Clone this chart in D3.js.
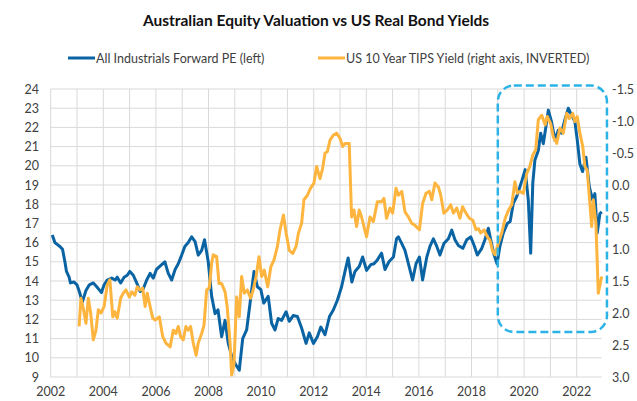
<!DOCTYPE html>
<html>
<head>
<meta charset="utf-8">
<script src="https://cdn.jsdelivr.net/npm/d3@7"></script>
<style>
  body { margin: 0; background: #fff; }
  text { font-family: Lato, "Open Sans", sans-serif; fill: #404040; }
</style>
</head>
<body>
<div id="chart"></div>
<script>
// ---------------- DATA ----------------
const peDates = [2002.06, 2002.16, 2002.35, 2002.45, 2002.54, 2002.6, 2002.7, 2002.75, 2002.88, 2003.0,
  2003.1, 2003.2, 2003.34, 2003.47, 2003.62, 2003.75, 2003.87, 2003.93, 2004.03, 2004.15,
  2004.32, 2004.45, 2004.53, 2004.66, 2004.79, 2004.91, 2005.01, 2005.14, 2005.27, 2005.4,
  2005.52, 2005.65, 2005.78, 2005.9, 2006.02, 2006.22, 2006.34, 2006.47, 2006.6, 2006.73,
  2006.85, 2006.98, 2007.1, 2007.23, 2007.36, 2007.49, 2007.61, 2007.74, 2007.85, 2007.99,
  2008.12, 2008.25, 2008.36, 2008.5, 2008.63, 2008.75, 2008.88, 2009.01, 2009.17, 2009.3,
  2009.45, 2009.58, 2009.73, 2009.86, 2009.99, 2010.1, 2010.27, 2010.4, 2010.53, 2010.65,
  2010.78, 2010.95, 2011.07, 2011.22, 2011.38, 2011.54, 2011.71, 2011.83, 2011.99, 2012.14,
  2012.27, 2012.43, 2012.6, 2012.75, 2012.9, 2013.06, 2013.19, 2013.31, 2013.45, 2013.57,
  2013.73, 2013.86, 2014.01, 2014.17, 2014.29, 2014.42, 2014.58, 2014.71, 2014.86, 2015.03,
  2015.15, 2015.22, 2015.35, 2015.47, 2015.6, 2015.76, 2015.89, 2016.02, 2016.14, 2016.3,
  2016.42, 2016.55, 2016.68, 2016.8, 2016.95, 2017.12, 2017.25, 2017.37, 2017.5, 2017.67,
  2017.82, 2017.97, 2018.1, 2018.22, 2018.39, 2018.51, 2018.64, 2018.73, 2018.86, 2018.97,
  2019.08, 2019.21, 2019.36, 2019.47, 2019.59, 2019.72, 2019.91, 2020.04, 2020.16, 2020.25,
  2020.33, 2020.41, 2020.54, 2020.63, 2020.73, 2020.83, 2020.92, 2021.04, 2021.17, 2021.3,
  2021.42, 2021.55, 2021.68, 2021.8, 2021.93, 2022.02, 2022.12, 2022.22, 2022.35, 2022.48,
  2022.61, 2022.69, 2022.78, 2022.88, 2022.95];
const peValues = [16.4, 16.0, 15.8, 15.65, 15.0, 14.5, 14.2, 13.9, 13.95, 13.8,
  13.4, 12.9, 13.5, 13.8, 13.9, 13.7, 13.5, 13.4, 13.8, 14.05,
  14.15, 14.05, 14.2, 13.9, 14.2, 14.3, 14.5, 14.3, 13.9, 13.45,
  13.6, 14.05, 14.4, 14.15, 14.6, 14.85, 15.0, 14.4, 14.05, 14.6,
  14.9, 15.35, 15.8, 16.0, 16.3, 16.05, 15.35, 15.6, 16.15, 15.0,
  13.2, 12.3, 12.5, 11.1, 11.95, 10.75, 10.1, 9.7, 9.35, 11.0,
  11.45, 12.85, 14.5, 13.7, 13.55, 12.85, 13.2, 11.8, 11.45, 12.05,
  11.95, 12.4, 11.9, 12.2, 12.15, 11.55, 10.75, 11.3, 10.75, 11.1,
  11.6, 11.2, 12.15, 12.5, 13.0, 13.7, 14.5, 15.2, 13.95, 14.5,
  14.75, 15.25, 14.55, 14.85, 14.9, 15.1, 15.45, 14.6, 15.0, 15.25,
  16.2, 16.3, 15.95, 15.6, 14.9, 14.05, 14.9, 15.25, 14.05, 15.25,
  15.8, 16.2, 15.8, 15.35, 15.95, 16.2, 16.65, 16.15, 15.85, 15.7,
  16.15, 16.3, 15.85, 15.35, 15.7, 16.15, 16.75, 16.15, 15.35, 14.9,
  15.8, 16.5, 17.0, 17.1, 18.05, 18.4, 19.2, 19.8, 18.2, 15.45,
  19.1, 20.3, 20.8, 21.7, 21.15, 22.05, 22.9, 22.3, 21.35, 21.85,
  21.7, 22.4, 23.0, 22.65, 22.3, 21.35, 20.1, 19.7, 20.45, 18.9,
  18.2, 18.55, 16.5, 17.5, 17.6];

const tipsDates = [2003.08, 2003.15, 2003.24, 2003.34, 2003.43, 2003.52, 2003.62, 2003.72, 2003.81, 2003.91,
  2004.03, 2004.15, 2004.25, 2004.36, 2004.44, 2004.53, 2004.66, 2004.76, 2004.86, 2004.99,
  2005.08, 2005.2, 2005.29, 2005.4, 2005.5, 2005.59, 2005.67, 2005.78, 2005.88, 2005.97,
  2006.13, 2006.26, 2006.38, 2006.54, 2006.66, 2006.76, 2006.85, 2006.94, 2007.04, 2007.14,
  2007.23, 2007.32, 2007.42, 2007.53, 2007.61, 2007.74, 2007.83, 2007.93, 2008.03, 2008.12,
  2008.18, 2008.31, 2008.4, 2008.5, 2008.63, 2008.71, 2008.82, 2008.88, 2008.97, 2009.07,
  2009.17, 2009.26, 2009.36, 2009.48, 2009.6, 2009.7, 2009.81, 2009.92, 2010.02, 2010.12,
  2010.25, 2010.37, 2010.49, 2010.62, 2010.72, 2010.85, 2010.95, 2011.07, 2011.2, 2011.33,
  2011.42, 2011.54, 2011.63, 2011.76, 2011.88, 2012.01, 2012.11, 2012.24, 2012.34, 2012.43,
  2012.52, 2012.62, 2012.75, 2012.87, 2013.0, 2013.1, 2013.19, 2013.35, 2013.44, 2013.53,
  2013.63, 2013.73, 2013.82, 2013.91, 2014.01, 2014.14, 2014.27, 2014.42, 2014.58, 2014.67,
  2014.77, 2014.9, 2015.0, 2015.13, 2015.22, 2015.35, 2015.47, 2015.6, 2015.73, 2015.85,
  2016.02, 2016.14, 2016.27, 2016.4, 2016.49, 2016.61, 2016.74, 2016.83, 2016.95, 2017.08,
  2017.21, 2017.31, 2017.44, 2017.56, 2017.66, 2017.79, 2017.92, 2018.05, 2018.17, 2018.26,
  2018.35, 2018.48, 2018.6, 2018.7, 2018.81, 2018.89, 2019.02, 2019.15, 2019.28, 2019.4,
  2019.53, 2019.65, 2019.74, 2019.84, 2019.97, 2020.1, 2020.22, 2020.33, 2020.44, 2020.54,
  2020.67, 2020.8, 2020.88, 2021.01, 2021.11, 2021.24, 2021.36, 2021.49, 2021.62, 2021.72,
  2021.85, 2021.93, 2022.02, 2022.12, 2022.23, 2022.31, 2022.4, 2022.48, 2022.57, 2022.63,
  2022.73, 2022.82, 2022.95];
const tipsValues = [2.21, 1.77, 1.93, 2.16, 1.77, 2.0, 2.42, 2.27, 1.95, 2.0,
  1.9, 1.56, 1.48, 2.06, 1.98, 2.08, 1.77, 1.69, 1.64, 1.75,
  1.67, 1.72, 1.59, 1.64, 1.61, 1.9, 1.69, 1.9, 2.08, 2.11,
  2.06, 2.37, 2.47, 2.53, 2.27, 2.32, 2.21, 2.37, 2.42, 2.21,
  2.27, 2.21, 2.47, 2.66, 2.47, 2.32, 2.19, 1.64, 1.61, 1.22,
  1.09, 1.12, 1.54, 1.54, 1.67, 1.9, 2.47, 2.97, 2.79, 1.75,
  2.06, 1.43, 1.69, 1.64, 1.77, 1.64, 1.43, 1.12, 1.43, 1.33,
  1.59, 1.28, 1.17, 0.96, 0.70, 0.47, 0.75, 1.02, 1.07, 0.96,
  0.75, 0.6, 0.23, 0.16, 0.05, -0.03, -0.29, -0.10, -0.26, -0.5,
  -0.52, -0.70, -0.78, -0.81, -0.73, -0.6, -0.65, -0.65, 0.5, 0.39,
  0.65, 0.39, 0.5, 0.65, 0.81, 0.5, 0.57, 0.26, 0.26, 0.21,
  0.52, 0.36, 0.44, 0.05, 0.16, 0.1, 0.42, 0.5, 0.6, 0.63,
  0.70, 0.29, 0.13, 0.10, 0.23, -0.03, 0.03, 0.16, 0.44, 0.39,
  0.31, 0.44, 0.36, 0.52, 0.34, 0.44, 0.52, 0.55, 0.70, 0.68,
  0.75, 0.70, 0.81, 0.86, 1.04, 1.09, 0.91, 0.75, 0.52, 0.4,
  0.31, -0.05, 0.13, 0.10, 0.13, -0.18, -0.29, -0.47, -0.55, -1.02,
  -1.09, -0.94, -1.07, -0.96, -0.75, -0.65, -0.89, -0.81, -1.12, -1.04,
  -1.12, -0.99, -1.07, -0.81, -0.60, -0.29, -0.23, 0.18, 0.65, 0.23,
  0.60, 1.69, 1.43];

const leftTicks = [9, 10, 11, 12, 13, 14, 15, 16, 17, 18, 19, 20, 21, 22, 23, 24];
const rightTicks = [-1.5, -1.0, -0.5, 0.0, 0.5, 1.0, 1.5, 2.0, 2.5, 3.0];
const yearTicks = [2002, 2004, 2006, 2008, 2010, 2012, 2014, 2016, 2018, 2020, 2022];
const yearGrid = d3.range(2002, 2023);
// dashed highlight box (years, left-axis units)
const highlight = { x0: 2019.0, x1: 2023.15, top: 24.18, bottom: 11.35 };

// ---------------- CHART ----------------
const width = 637, height = 401;
const margin = { top: 89, right: 35.3, bottom: 24, left: 50.7 };

const svg = d3.select("#chart").append("svg")
  .attr("width", width).attr("height", height);

const x = d3.scaleLinear().domain([2002, 2022.95])
  .range([margin.left, width - margin.right]);
const yL = d3.scaleLinear().domain([9, 24])
  .range([height - margin.bottom, margin.top]);
const yR = d3.scaleLinear().domain([3.0, -1.5])
  .range([height - margin.bottom, margin.top]);

// gridlines
svg.append("g").selectAll("line").data(leftTicks).join("line")
  .attr("x1", x.range()[0]).attr("x2", x.range()[1])
  .attr("y1", d => yL(d)).attr("y2", d => yL(d))
  .attr("stroke", "#d9d9d9").attr("stroke-width", 1);
svg.append("g").selectAll("line").data(yearGrid).join("line")
  .attr("x1", d => x(d)).attr("x2", d => x(d))
  .attr("y1", yL(9)).attr("y2", yL(24))
  .attr("stroke", "#d9d9d9").attr("stroke-width", 1);

// axes labels
svg.append("g").selectAll("text").data(leftTicks).join("text")
  .attr("x", 39).attr("y", d => yL(d) + 4.5)
  .attr("text-anchor", "end").style("font-size", "12.5px")
  .text(d => d);
svg.append("g").selectAll("text").data(rightTicks).join("text")
  .attr("x", 612).attr("y", d => yR(d) + 4.5)
  .attr("text-anchor", "start").style("font-size", "12.5px")
  .text(d => d3.format(".1f")(d).replace("−", "-"));
svg.append("g").selectAll("text").data(yearTicks).join("text")
  .attr("x", d => x(d)).attr("y", 396)
  .attr("text-anchor", "middle").style("font-size", "12.5px")
  .text(d => d);

// lines
const pe = peDates.map((d, i) => [d, peValues[i]]);
const tips = tipsDates.map((d, i) => [d, tipsValues[i]]);

svg.append("path").datum(pe)
  .attr("fill", "none").attr("stroke", "#0A64A4").attr("stroke-width", 3)
  .attr("stroke-linejoin", "round")
  .attr("d", d3.line().x(d => x(d[0])).y(d => yL(d[1])));
svg.append("path").datum(tips)
  .attr("fill", "none").attr("stroke", "#FDB53F").attr("stroke-width", 3)
  .attr("stroke-linejoin", "round")
  .attr("d", d3.line().x(d => x(d[0])).y(d => yR(d[1])));

// highlight box
svg.append("rect")
  .attr("x", x(highlight.x0)).attr("y", yL(highlight.top))
  .attr("width", x(highlight.x1) - x(highlight.x0))
  .attr("height", yL(highlight.bottom) - yL(highlight.top))
  .attr("rx", 16).attr("ry", 16)
  .attr("fill", "none").attr("stroke", "#2BB3E6")
  .attr("stroke-width", 2.5).attr("stroke-dasharray", "8,4");

// title
svg.append("text")
  .attr("x", 316).attr("y", 26).attr("text-anchor", "middle")
  .style("font-size", "15.5px").style("font-weight", "bold").style("fill", "#111")
  .text("Australian Equity Valuation vs US Real Bond Yields");

// legend
const legend = [
  { label: "All Industrials Forward PE (left)", color: "#0A64A4", x: 68 },
  { label: "US 10 Year TIPS Yield (right axis, INVERTED)", color: "#FDB53F", x: 318 },
];
const lg = svg.append("g").selectAll("g").data(legend).join("g")
  .attr("transform", d => `translate(${d.x},58)`);
lg.append("line").attr("x1", 0).attr("x2", 27).attr("y1", 0).attr("y2", 0)
  .attr("stroke", d => d.color).attr("stroke-width", 3);
lg.append("text").attr("x", 28).attr("y", 4.5)
  .style("font-size", "12.5px").text(d => d.label);
</script>
</body>
</html>
